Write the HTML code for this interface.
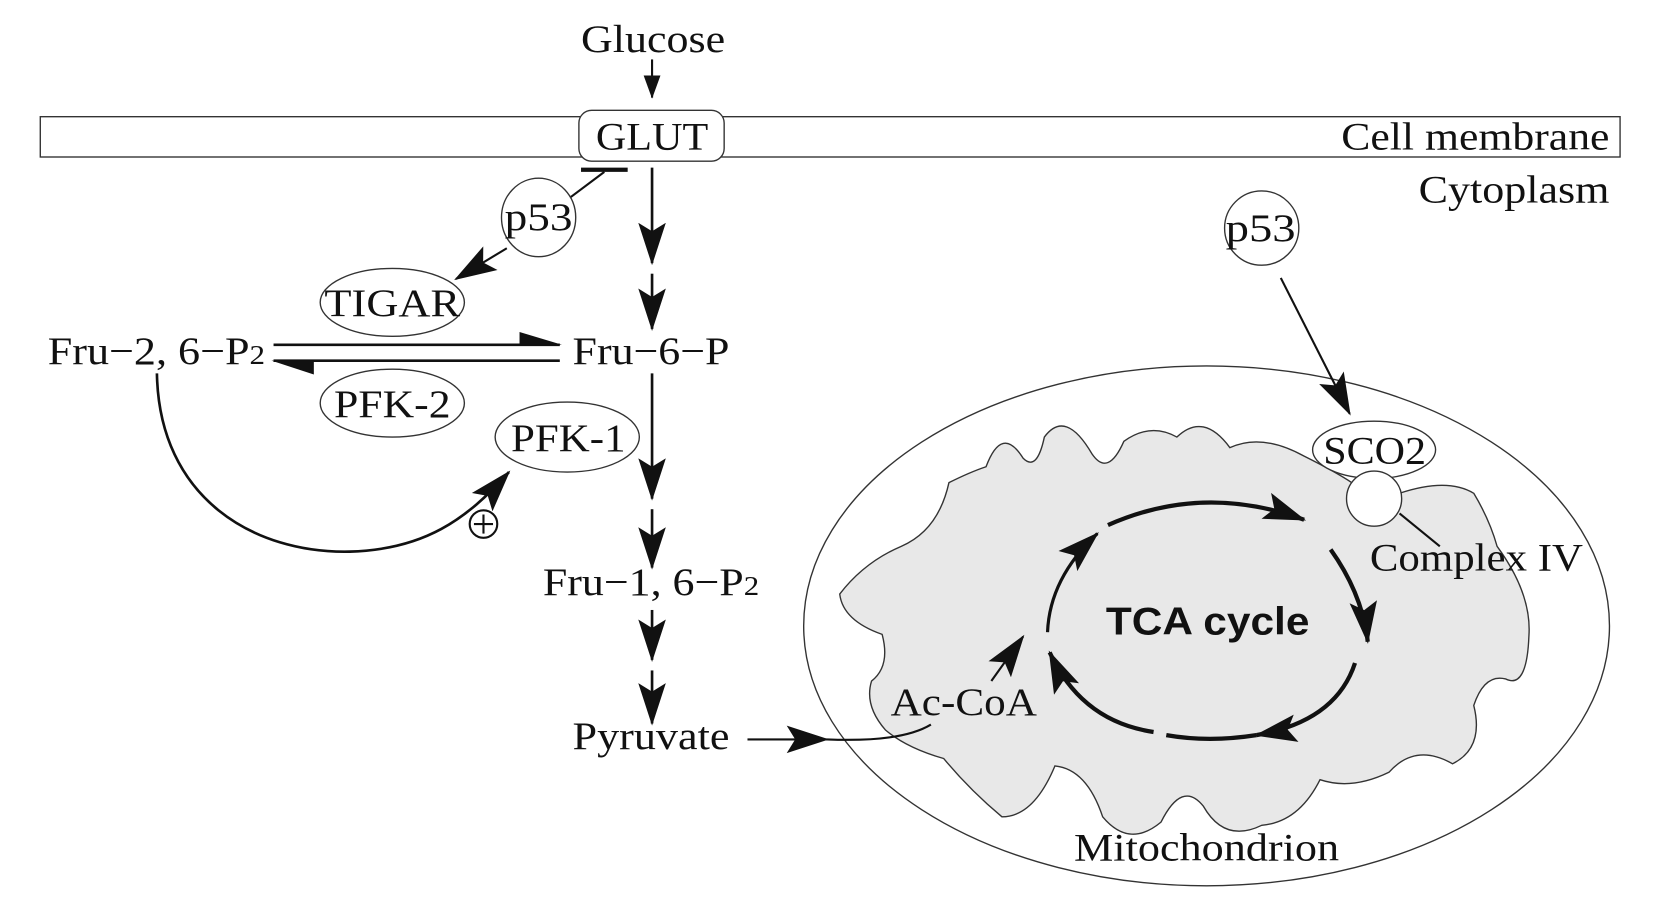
<!DOCTYPE html>
<html><head><meta charset="utf-8"><style>
html,body{margin:0;padding:0;background:#fff;}
svg{display:block}
text{font-family:"Liberation Serif",serif;fill:#111;font-size:37px}
</style></head><body>
<svg width="1654" height="907" viewBox="0 0 1560 855" preserveAspectRatio="none" xmlns="http://www.w3.org/2000/svg">
<defs>
<marker id="b" markerWidth="40" markerHeight="30" refX="38" refY="15" orient="auto" markerUnits="userSpaceOnUse" viewBox="0 0 40 30"><path d="M0,2 L40,15 L0,28 L8,15 z" fill="#111"/></marker>
<marker id="s" markerWidth="22" markerHeight="16" refX="21" refY="8" orient="auto" markerUnits="userSpaceOnUse" viewBox="0 0 22 16"><path d="M0,0 L22,8 L0,16 z" fill="#111"/></marker>
</defs>
<rect width="1560" height="855" fill="#fff"/>
<text x="548" y="49" textLength="136" lengthAdjust="spacingAndGlyphs">Glucose</text>
<line x1="615" y1="56" x2="615" y2="92" stroke="#111" stroke-width="2" marker-end="url(#s)"/>
<rect x="38" y="110" width="1490" height="38" fill="#fff" stroke="#333" stroke-width="1.3"/>
<rect x="546" y="104" width="137" height="48" rx="12" fill="#fff" stroke="#333" stroke-width="1.3"/>
<text x="562" y="141" textLength="106" lengthAdjust="spacingAndGlyphs">GLUT</text>
<text x="1265" y="141" textLength="253" lengthAdjust="spacingAndGlyphs">Cell membrane</text>
<text x="1338" y="191" textLength="180" lengthAdjust="spacingAndGlyphs">Cytoplasm</text>
<line x1="548" y1="160" x2="592" y2="160" stroke="#111" stroke-width="4"/>
<line x1="570" y1="162" x2="538" y2="186" stroke="#111" stroke-width="2"/>
<ellipse cx="508" cy="205" rx="35" ry="37" fill="#fff" stroke="#333" stroke-width="1.3"/>
<text x="476" y="217" textLength="64" lengthAdjust="spacingAndGlyphs">p53</text>
<line x1="478" y1="234" x2="430" y2="263" stroke="#111" stroke-width="2" marker-end="url(#b)"/>
<ellipse cx="370" cy="285" rx="68" ry="32" fill="#fff" stroke="#333" stroke-width="1.3"/>
<text x="306" y="298" textLength="128" lengthAdjust="spacingAndGlyphs">TIGAR</text>
<line x1="615" y1="158" x2="615" y2="248" stroke="#111" stroke-width="2.5" marker-end="url(#b)"/>
<line x1="615" y1="258" x2="615" y2="310" stroke="#111" stroke-width="2.5" marker-end="url(#b)"/>
<text x="540" y="343" textLength="148" lengthAdjust="spacingAndGlyphs">Fru−6−P</text>
<text x="45" y="343" textLength="205" lengthAdjust="spacingAndGlyphs">Fru−2, 6−P<tspan font-size="26">2</tspan></text>
<line x1="258" y1="325" x2="528" y2="325" stroke="#111" stroke-width="2.5"/>
<path d="M490,313 L530,325 L490,325 z" fill="#111"/>
<line x1="258" y1="340" x2="528" y2="340" stroke="#111" stroke-width="2.5"/>
<path d="M256,340 L296,340 L296,353 z" fill="#111"/>
<ellipse cx="370" cy="380" rx="68" ry="32" fill="#fff" stroke="#333" stroke-width="1.3"/>
<text x="315" y="393" textLength="110" lengthAdjust="spacingAndGlyphs">PFK-2</text>
<ellipse cx="535" cy="412" rx="68" ry="33" fill="#fff" stroke="#333" stroke-width="1.3"/>
<text x="482" y="425" textLength="108" lengthAdjust="spacingAndGlyphs">PFK-1</text>
<line x1="615" y1="352" x2="615" y2="470" stroke="#111" stroke-width="2.5" marker-end="url(#b)"/>
<line x1="615" y1="480" x2="615" y2="535" stroke="#111" stroke-width="2.5" marker-end="url(#b)"/>
<text x="512" y="561" textLength="204" lengthAdjust="spacingAndGlyphs">Fru−1, 6−P<tspan font-size="26">2</tspan></text>
<line x1="615" y1="575" x2="615" y2="622" stroke="#111" stroke-width="2.5" marker-end="url(#b)"/>
<line x1="615" y1="632" x2="615" y2="682" stroke="#111" stroke-width="2.5" marker-end="url(#b)"/>
<text x="540" y="706" textLength="148" lengthAdjust="spacingAndGlyphs">Pyruvate</text>
<path d="M148,352 C150,470 240,522 330,520 C400,518 440,490 480,445" fill="none" stroke="#111" stroke-width="2.5" marker-end="url(#b)"/>
<circle cx="456" cy="494" r="13" fill="#fff" stroke="#111" stroke-width="2"/>
<line x1="447" y1="494" x2="465" y2="494" stroke="#111" stroke-width="2"/>
<line x1="456" y1="485" x2="456" y2="503" stroke="#111" stroke-width="2"/>
<ellipse cx="1138" cy="590" rx="380" ry="245" fill="#fff" stroke="#333" stroke-width="1.3"/>
<path d="M895,455 Q915,445 930,440 Q945,400 965,432 Q978,445 985,412 Q1005,385 1030,428 Q1045,450 1060,416 Q1085,398 1110,412 Q1135,388 1160,422 Q1190,408 1230,430 Q1260,445 1275,455 L1320,465 Q1365,450 1390,465 Q1405,490 1412,515 Q1445,560 1442,600 Q1440,650 1420,640 Q1400,635 1390,665 Q1400,705 1370,720 Q1335,700 1310,728 Q1275,745 1245,735 Q1225,775 1190,778 Q1155,795 1135,760 Q1115,735 1095,775 Q1065,800 1040,770 Q1025,725 995,722 Q975,770 945,770 Q915,745 890,715 Q855,705 835,688 Q815,665 822,642 Q840,628 832,598 Q795,585 792,560 Q815,530 850,515 Q885,500 895,455 z" fill="#e8e8e8" stroke="#333" stroke-width="1.3"/>
<text x="1043" y="598" font-size="38" font-weight="bold" textLength="192" lengthAdjust="spacingAndGlyphs" style="font-family:'Liberation Sans',sans-serif">TCA cycle</text>
<path d="M1045,495 Q1135,455 1230,490" fill="none" stroke="#111" stroke-width="4" marker-end="url(#b)"/>
<path d="M1255,518 Q1285,560 1290,605" fill="none" stroke="#111" stroke-width="4" marker-end="url(#b)"/>
<path d="M1278,625 Q1260,680 1185,693" fill="none" stroke="#111" stroke-width="4" marker-end="url(#b)"/>
<path d="M1088,690 Q1020,680 990,615" fill="none" stroke="#111" stroke-width="4" marker-end="url(#b)"/>
<path d="M988,596 Q990,545 1035,503" fill="none" stroke="#111" stroke-width="3" marker-end="url(#b)"/>
<path d="M1100,693 Q1140,700 1185,693" fill="none" stroke="#111" stroke-width="4"/>
<line x1="935" y1="642" x2="965" y2="600" stroke="#111" stroke-width="2" marker-end="url(#b)"/>
<text x="840" y="674" textLength="138" lengthAdjust="spacingAndGlyphs">Ac-CoA</text>
<line x1="705" y1="697" x2="780" y2="697" stroke="#111" stroke-width="2" marker-end="url(#b)"/>
<path d="M780,697 Q850,700 878,683" fill="none" stroke="#111" stroke-width="2"/>
<ellipse cx="1296" cy="424" rx="58" ry="27" fill="#fff" stroke="#333" stroke-width="1.3"/>
<text x="1248" y="437" textLength="97" lengthAdjust="spacingAndGlyphs">SCO2</text>
<circle cx="1296" cy="470" r="26" fill="#fff" stroke="#333" stroke-width="1.3"/>
<line x1="1320" y1="484" x2="1358" y2="515" stroke="#111" stroke-width="2"/>
<text x="1292" y="538" textLength="201" lengthAdjust="spacingAndGlyphs">Complex IV</text>
<circle cx="1190" cy="215" r="35" fill="#fff" stroke="#333" stroke-width="1.3"/>
<text x="1156" y="227" textLength="66" lengthAdjust="spacingAndGlyphs">p53</text>
<line x1="1208" y1="262" x2="1273" y2="390" stroke="#111" stroke-width="2" marker-end="url(#b)"/>
<text x="1013" y="811" textLength="250" lengthAdjust="spacingAndGlyphs">Mitochondrion</text>
</svg>
</body></html>
